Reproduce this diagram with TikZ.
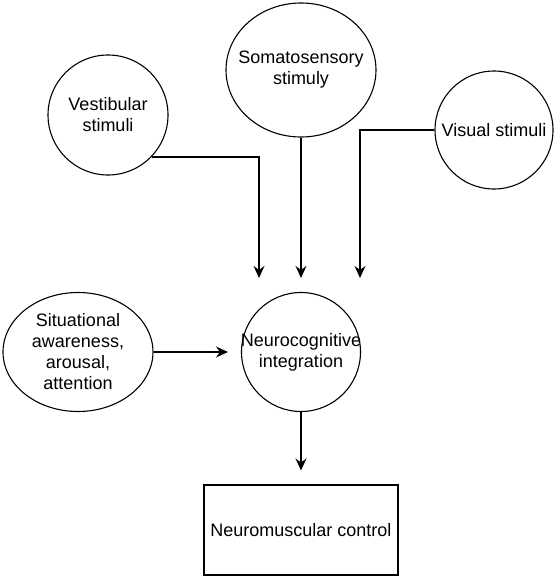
\documentclass[tikz,border=0pt]{standalone}
\usepackage{fontspec}
\setmainfont{Liberation Sans}
\usetikzlibrary{shapes.geometric, arrows.meta, positioning, calc}

\tikzset{
  txt/.style={font=\fontsize{18pt}{21pt}\selectfont, align=center, inner sep=0pt},
  stim/.style 2 args={draw, ellipse, line width=1.1pt, inner sep=0pt,
    minimum width=#1, minimum height=#2},
  link/.style={line width=1.2pt, -{Stealth[length=12pt,width=11pt,inset=4pt]}}
}

\begin{document}
\begin{tikzpicture}[x=1pt,y=-1pt]
      \useasboundingbox (0,0) rectangle (558,578);

      \node[stim={120pt}{120pt}, label={[txt]center:Vestibular\\stimuli}] (vest) at (108,115) {};
      \node[stim={150pt}{134pt}, label={[txt]center:Somatosensory\\stimuly}] (soma) at (301,70) {};
      \node[stim={118pt}{118pt}, label={[txt]center:Visual stimuli}] (vis) at (494,130) {};
      \node[stim={150pt}{119pt}, label={[txt]center:Situational\\awareness,\\arousal,\\attention}] (sit) at (78,352) {};
      \node[stim={119pt}{119pt}, label={[txt]center:Neurocognitive\\integration}] (neuro) at (301,352) {};
      \node[draw, line width=1.1pt, minimum width=194pt, minimum height=90pt, txt] (ctrl) at (301,530) {Neuromuscular control};

      \coordinate (top) at ($(neuro.north)+(0,-14)$);
      \draw[link] (vest.-44) -| ($(top)+(-42,0)$);
      \draw[link] (soma.south) -- (top);
      \draw[link] (vis.west) -| ($(top)+(59,0)$);
      \draw[link, shorten >=13pt] (sit.east) -- (neuro.west);
      \draw[link, shorten >=14pt] (neuro.south) -- (ctrl.north);
    \end{tikzpicture}
\end{document}
